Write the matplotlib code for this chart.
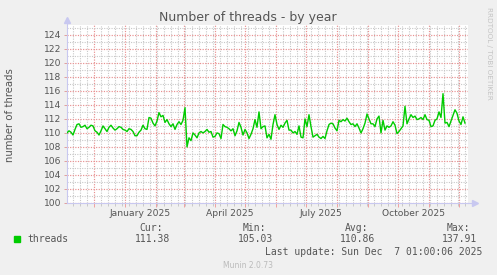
import matplotlib
matplotlib.use("Agg")
import matplotlib.pyplot as plt
import matplotlib.dates as mdates
import pandas as pd

# daily thread counts, sampled every 2 days from 2024-11-04
start_date = "2024-11-04"
threads = [
    110.0, 110.3, 110.1, 109.7, 110.5, 111.2, 111.3, 110.8, 110.9, 111.1,
    110.6, 110.8, 111.1, 111.0, 110.3, 110.1, 109.7, 110.3, 111.0, 110.6,
    110.2, 110.8, 111.1, 110.7, 110.4, 110.6, 110.9, 110.8, 110.5, 110.4,
    110.2, 110.6, 110.5, 110.2, 109.6, 109.6, 110.1, 110.4, 111.1,
    110.6, 110.5, 112.2, 112.1, 111.4, 111.0, 111.7, 112.9, 112.3, 112.5,
    111.5, 111.9, 111.3, 110.9, 111.3, 110.5, 111.2, 111.6, 111.2, 111.8,
    113.6, 108.0, 109.3, 108.9, 110.0, 109.7, 109.3, 110.0, 110.2, 110.0,
    110.2, 110.5, 110.1, 110.2, 109.4, 109.5, 110.0, 109.9, 109.2, 111.2,
    110.9, 110.8, 110.6, 110.3, 110.6, 109.6, 110.3, 111.5, 110.8, 109.7,
    110.5, 110.0, 109.2, 109.8, 110.6, 111.9, 110.8, 113.0, 110.6, 110.9,
    111.0, 109.3, 109.8, 109.1, 111.2, 112.6, 111.2, 110.5, 111.1, 110.8,
    111.4, 111.8, 110.4, 110.4, 110.0, 110.2, 109.8, 111.0, 109.4, 109.3,
    112.0, 110.9, 112.6, 110.9, 109.4, 109.6, 109.8, 109.4, 109.2, 109.5,
    109.2, 110.3, 111.2, 111.4, 111.3, 110.7, 110.3, 111.8, 111.6, 111.9,
    111.7, 112.1, 111.6, 111.2, 111.3, 110.9, 111.3, 110.7, 110.0, 110.6,
    111.4, 112.7, 112.0, 111.3, 111.3, 110.9, 112.0, 112.4, 110.0, 111.8,
    110.4, 111.0, 110.8, 111.0, 111.6, 111.1, 109.9, 110.2, 110.6, 111.0,
    113.8, 111.3, 112.0, 112.6, 112.2, 112.4, 111.9, 112.0, 112.2, 111.9,
    112.6, 111.9, 111.8, 110.9, 111.0, 111.8, 112.0, 113.0, 112.2, 115.6,
    111.4, 111.5, 110.9, 111.7, 112.5, 113.3, 112.8, 111.7, 111.2, 112.3,
    111.4,
]
dates = pd.date_range(start_date, periods=len(threads), freq="2D")

month_labels = ["January 2025", "April 2025", "July 2025", "October 2025"]
label_dates = ["2025-01-16", "2025-04-16", "2025-07-16", "2025-10-16"]

stat_names = ["Cur:", "Min:", "Avg:", "Max:"]
stat_values = ["111.38", "105.03", "110.86", "137.91"]

W, H = 497, 275
BG = "#F0F0F0"
TXT = "#555555"
AXIS = "#C8C8F0"
GREEN = "#00CC00"


def fx(px):
    return px / W


def fy(py):
    return 1 - py / H


fig = plt.figure(figsize=(W / 100, H / 100), dpi=100, facecolor=BG)
ax = fig.add_axes([fx(67), fy(203), 401 / W, (203 - 25) / H])
ax.set_facecolor("white")

ax.plot(dates, threads, color=GREEN, linewidth=1.0, zorder=3)

ax.set_xlim(pd.Timestamp("2024-11-04"), pd.Timestamp("2025-12-10"))
ax.set_ylim(100, 125.4)

# grid: months red, weeks grey; y every 2 red, odd values grey
ax.xaxis.set_major_locator(mdates.MonthLocator())
ax.xaxis.set_minor_locator(mdates.WeekdayLocator(byweekday=mdates.SU))
ax.xaxis.set_major_formatter(plt.NullFormatter())
ax.set_yticks(range(100, 125, 2))
ax.set_yticks(range(101, 126, 2), minor=True)
ax.grid(which="major", color="#E89090", linestyle=(0, (1, 1.2)), linewidth=0.85)
ax.grid(which="minor", color="#C8C8C8", linestyle=(0, (1, 1.2)), linewidth=0.8)
ax.set_axisbelow(True)

ax.tick_params(axis="y", which="major", length=2, width=0.7, color="#E0A0A0",
               labelsize=6.6, labelcolor=TXT, pad=2)
ax.tick_params(axis="y", which="minor", length=0)
ax.tick_params(axis="x", which="major", length=3, width=0.7, color="#F0A0A0")
ax.tick_params(axis="x", which="minor", length=2, width=0.7, color="#C8C8C8")

for lab, d in zip(month_labels, label_dates):
    ax.text(pd.Timestamp(d), -0.035, lab, transform=ax.get_xaxis_transform(),
            ha="center", va="top", fontsize=6.6, color=TXT)

for s in ["top", "right"]:
    ax.spines[s].set_visible(False)
for s in ["left", "bottom"]:
    ax.spines[s].set_color(AXIS)
    ax.spines[s].set_linewidth(0.8)
ax.spines["left"].set_bounds(100, 126.2)
ax.plot([1.0, 1.015], [0, 0], transform=ax.transAxes, color=AXIS, lw=0.8, clip_on=False)
ax.plot([0], [1.03], marker="^", color=AXIS, markersize=4, transform=ax.transAxes, clip_on=False)
ax.plot([1.017], [0], marker=">", color=AXIS, markersize=4, transform=ax.transAxes, clip_on=False)

fig.text(fx(248), fy(18), "Number of threads - by year", ha="center", va="center",
         fontsize=9.0, color=TXT)
fig.text(fx(10), fy(115), "number of threads", rotation=90, ha="center", va="center",
         fontsize=7.3, color=TXT)
fig.text(fx(489), fy(53), "RRDTOOL / TOBI OETIKER", rotation=270, ha="center", va="center",
         fontsize=5.2, color="#C4C4C4")

# legend block
mono = "DejaVu Sans Mono"
fig.patches.append(plt.Rectangle((fx(14), fy(242)), 6 / W, 6 / H, color=GREEN,
                                 transform=fig.transFigure))
fig.text(fx(27), fy(239), "threads", ha="left", va="center", fontsize=7,
         family=mono, color=TXT)
name_right = [163, 266, 368, 470]
value_right = [170, 273, 375, 477]
for name, val, nr, vr in zip(stat_names, stat_values, name_right, value_right):
    fig.text(fx(nr), fy(228), name, ha="right", va="center", fontsize=7, family=mono, color=TXT)
    fig.text(fx(vr), fy(239), val, ha="right", va="center", fontsize=7, family=mono, color=TXT)
fig.text(fx(482), fy(252), "Last update: Sun Dec  7 01:00:06 2025", ha="right", va="center",
         fontsize=7, family=mono, color=TXT)
fig.text(fx(248), fy(265), "Munin 2.0.73", ha="center", va="center", fontsize=5.5,
         color="#BBBBBB")

fig.savefig("out.png", dpi=100, facecolor=BG)
